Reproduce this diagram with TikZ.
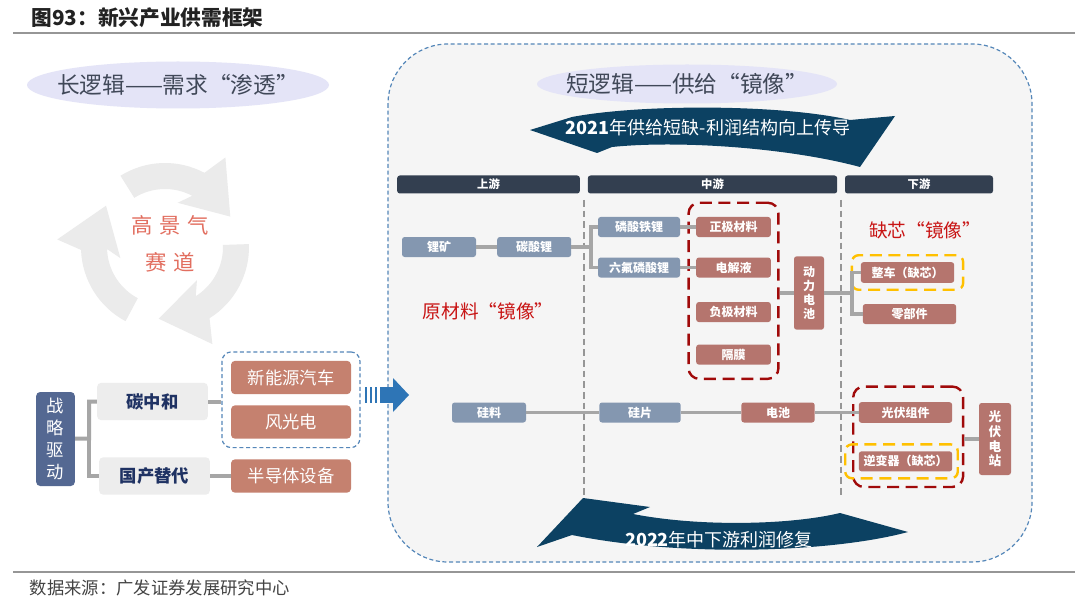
\documentclass[tikz,border=0pt]{standalone}
\usepackage{fontspec}
\setmainfont{Noto Sans CJK SC}
\usepackage{xcolor}
\usepackage{tikz}
\usetikzlibrary{positioning,fit}
\definecolor{sdhdr}{RGB}{51,63,80}
\definecolor{sdslate}{RGB}{132,151,176}
\definecolor{sdrose}{RGB}{181,117,110}
\definecolor{sdcoral}{RGB}{197,129,111}
\definecolor{sdindigo}{RGB}{84,104,146}
\definecolor{sdnavy}{RGB}{31,50,99}
\definecolor{sdpale}{RGB}{237,237,237}
\definecolor{sdbg}{RGB}{245,245,245}
\definecolor{sdblue}{RGB}{85,135,185}
\definecolor{sdred}{RGB}{160,10,10}
\definecolor{sdamber}{RGB}{255,192,0}
\definecolor{sddeep}{RGB}{12,65,98}
\definecolor{sdarrow}{RGB}{46,117,182}
\definecolor{sdlav}{RGB}{228,228,247}
\definecolor{sdring}{RGB}{235,235,235}
\definecolor{sdlink}{RGB}{166,166,166}
\definecolor{sdgrey}{RGB}{150,150,150}
\definecolor{sdtext}{RGB}{64,72,88}
\definecolor{sdscarlet}{RGB}{200,20,20}
\definecolor{sdsalmon}{RGB}{226,110,95}
\definecolor{sdink}{RGB}{34,34,34}
\newcommand{\sdsize}[2]{\fontsize{#1}{#2}\selectfont}
\tikzset{
  hdr/.style={fill=sdhdr, rounded corners=2pt, text=white, inner sep=0pt,
              minimum height=13.5pt, font=\sdsize{8.5pt}{10pt}\bfseries},
  upn/.style={fill=sdslate, rounded corners=2pt, text=white, inner sep=0pt,
              minimum height=15pt, font=\sdsize{9pt}{11pt}\bfseries},
  mdn/.style={upn, fill=sdrose},
  vrt/.style={mdn, align=center, font=\sdsize{9pt}{10.5pt}\bfseries},
  drv/.style={fill=sdindigo, rounded corners=3pt, text=white, inner sep=0pt,
              align=center, minimum width=29pt, minimum height=70.5pt,
              font=\sdsize{13pt}{16.5pt}},
  cat/.style={fill=sdpale, rounded corners=3pt, text=sdnavy, inner sep=0pt,
              minimum width=83pt, minimum height=28pt,
              font=\sdsize{13pt}{15pt}\bfseries},
  ind/.style={fill=sdcoral, rounded corners=3pt, text=white, inner sep=0pt,
              minimum width=90pt, minimum height=25pt, font=\sdsize{13pt}{15pt}},
  link/.style={draw=sdlink, line width=2.4pt},
  llink/.style={link, line width=3pt},
  rdash/.style={draw=sdred, line width=1.8pt, dash pattern=on 9pt off 5pt,
                rounded corners=8pt, inner sep=0pt},
  ydash/.style={rdash, draw=sdamber, rounded corners=5pt},
  bdash/.style={draw=sdblue, line width=0.9pt, dash pattern=on 3pt off 2pt},
  vdash/.style={draw=sdgrey, line width=0.8pt, dash pattern=on 5pt off 3pt},
  mir/.style={text=sdscarlet, font=\sdsize{14pt}{16pt}},
  ovltxt/.style={text=sdtext, font=\sdsize{17pt}{20pt}},
  band/.style={text=white, font=\sdsize{13.5pt}{16pt}},
}

\begin{document}
\begin{tikzpicture}[x=0.75pt, y=-0.75pt]
\useasboundingbox (0,0) rectangle (1080,602);
\fill[white] (0,0) rectangle (1080,602);
% title and source
\node[anchor=west, text=sdink, font=\sdsize{15.5pt}{18pt}\bfseries] (title) at (27,18) {图93：新兴产业供需框架};
\draw[sdgrey, line width=1.2pt] (13,33) -- (1075,33);
\draw[sdgrey, line width=1.2pt] (13,572) -- (1075,572);
\node[anchor=west, text=sdink!85, font=\sdsize{13pt}{15pt}] (source) at (25,588) {数据来源：广发证券发展研究中心};

% long logic (left)
\fill[sdlav] (178,85) ellipse[x radius=151, y radius=23.5];
\node[ovltxt] (longl) at (178,85) {长逻辑——需求“渗透”};
\begin{scope}[shift={(165,247)}, x=0.75pt, y=0.75pt]
\foreach \t in {122,2,242}
  \fill[sdring] (\t:84) arc[start angle=\t, end angle=\t-60, radius=84]
    -- (\t-66:108) -- (\t-97:72) -- (\t-48:46) -- (\t-60:58)
    arc[start angle=\t-60, end angle=\t, radius=58] -- cycle;
\end{scope}
\node[text=sdsalmon, align=center, font=\sdsize{16pt}{28pt}] (track) at (170,243.5)
  {高\hspace{0.3em}景\hspace{0.3em}气\\赛\hspace{0.3em}道};

\node[drv] (zlqd) at (55.5,439) {战\\略\\驱\\动};
\node[cat] (tzh) at (152.5,401.5) {碳中和};
\node[cat] (gcth) at (154.5,476) {国产替代};
\node[ind] (xnyqc) at (291,377.5) {新能源汽车};
\node[ind, below=8pt of xnyqc] (fgd) {风光电};
\node[ind] (bdt) at (291,476) {半导体设备};
\node[bdash, rounded corners=7pt, fit=(xnyqc)(fgd), inner xsep=6.5pt, inner ysep=6.5pt] (xinbox) {};
\coordinate (jzl) at (89,438.5);
\draw[llink] (zlqd) -- (jzl) |- (tzh);
\draw[llink] (jzl) |- (gcth);
\draw[llink] (tzh) -- (xinbox.west |- tzh);
\draw[llink] (gcth) -- (bdt);

% short logic (right)
\draw[bdash, fill=sdbg, rounded corners=45pt] (388,44) rectangle (1032,562);
\foreach \s in {365,370,375}
  \fill[sdarrow] (\s,387) rectangle ++(2,16);
\fill[sdarrow] (380,387) rectangle (393,403);
\fill[sdarrow] (393,378) -- (409,395) -- (393,412) -- cycle;
\fill[sdlav] (687,84) ellipse[x radius=150, y radius=19.5];
\node[ovltxt] (shortl) at (687,84) {短逻辑——供给“镜像”};
\fill[sddeep] (530,130) -- (572,117) .. controls (640,104) and (780,104) .. (850,120)
  -- (895,116) -- (860,167) .. controls (790,148) and (680,140) .. (612,147)
  -- (597,153) -- cycle;
\node[band] (up21) at (708,128) {\textbf{2021}年供给短缺-利润结构向上传导};
\fill[sddeep] (583,498) -- (650,507) -- (633,514) .. controls (700,527) and (790,525) .. (840,513)
  -- (908,532) .. controls (830,553) and (680,557) .. (572,535) -- (537,547) -- cycle;
\node[band] (dn22) at (719,540) {\textbf{2022}年中下游利润修复};

\node[hdr, minimum width=137pt] (hup) at (488.5,184.5) {上游};
\node[hdr, minimum width=187pt] (hmid) at (712.5,184.5) {中游};
\node[hdr, minimum width=111pt] (hdown) at (919,184.5) {下游};
\draw[vdash] (584,200) -- (584,498);
\draw[vdash] (841,200) -- (841,498);

\node[upn, minimum width=55.5pt] (likuang) at (439,247) {锂矿};
\node[upn, minimum width=55.5pt, right=15.5pt of likuang] (tanli) {碳酸锂};
\node[upn, minimum width=61.5pt] (lintie) at (639,227) {磷酸铁锂};
\node[upn, minimum width=61.5pt, below=15pt of lintie] (liuf) {六氟磷酸锂};
\node[mdn, minimum width=56pt] (zhengji) at (733.5,227) {正极材料};
\node[mdn, minimum width=56pt, below=15pt of zhengji] (dianjie) {电解液};
\node[mdn, minimum width=56pt, below=18pt of dianjie] (fuji) {负极材料};
\node[mdn, minimum width=56pt, below=16.5pt of fuji] (gemo) {隔膜};
\node[rdash, fit=(zhengji)(gemo), inner xsep=5.5pt, inner ysep=10.5pt] (batbox) {};
\node[vrt, minimum width=22.5pt, minimum height=55pt] (dongli) at (809,293) {动\\力\\电\\池};
\node[mdn, minimum width=70pt, minimum height=15.5pt] (zhengche) at (907.5,272.5) {整车（缺芯）};
\node[mdn, minimum width=70pt, below=15.5pt of zhengche, xshift=1.5pt] (lingbu) {零部件};
\node[ydash, fit=(zhengche), inner xsep=6.5pt, inner ysep=5pt] (zcbox) {};
\node[mir] (quexin) at (925,230) {缺芯“镜像”};
\node[mir] (yuancl) at (488,311) {原材料“镜像”};

\node[upn, minimum width=55.5pt] (guiliao) at (489,412.5) {硅料};
\node[upn, minimum width=61pt] (guipian) at (640,412.5) {硅片};
\node[mdn, minimum width=55pt] (dianchi) at (778,412.5) {电池};
\node[mdn, minimum width=70pt, minimum height=15.5pt] (gfzj) at (905.5,412.5) {光伏组件};
\node[mdn, minimum width=70pt, below=21pt of gfzj] (nbq) {逆变器（缺芯）};
\node[rdash, fit=(gfzj)(nbq), inner xsep=6pt, inner ysep=11.5pt, xshift=2pt] (pvbox) {};
\node[ydash, fit=(nbq), inner xsep=7pt, inner ysep=5pt, xshift=-3pt] (nbbox) {};
\node[vrt, minimum width=24pt, minimum height=54pt, font=\sdsize{9.5pt}{11pt}\bfseries] (gfdz) at (995,439) {光\\伏\\电\\站};

\coordinate (jtan) at (591,247);
\coordinate (jdong) at (852,293);
\draw[link] (likuang) -- (tanli);
\draw[link] (tanli) -- (jtan) |- (lintie);
\draw[link] (jtan) |- (liuf);
\draw[link] (lintie) -- (zhengji);
\draw[link] (liuf) -- (dianjie);
\draw[link] (batbox.east |- dongli) -- (dongli);
\draw[link] (dongli) -- (jdong) |- (zhengche);
\draw[link] (jdong) |- (lingbu);
\draw[link] (guiliao) -- (guipian);
\draw[link] (guipian) -- (dianchi);
\draw[link] (dianchi) -- (gfzj);
\draw[link] (pvbox.east |- gfdz) -- (gfdz);
\end{tikzpicture}
\end{document}
